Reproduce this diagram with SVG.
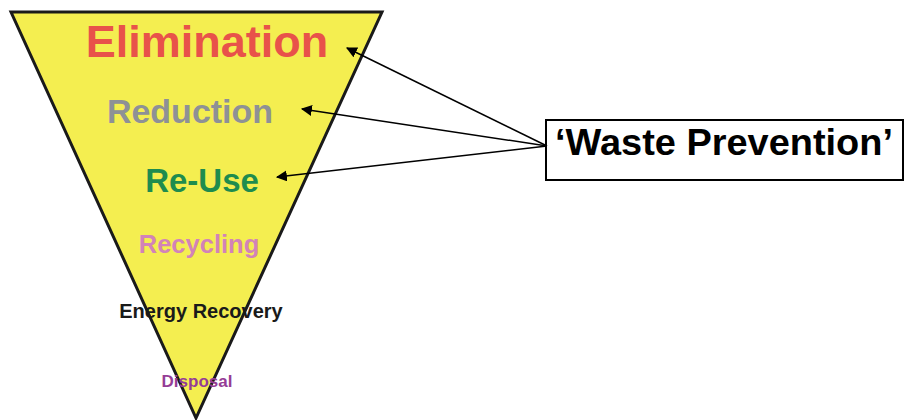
<svg xmlns="http://www.w3.org/2000/svg" width="905" height="420" viewBox="0 0 905 420">
<style>
text{font-family:"Liberation Sans",Arial,sans-serif;font-weight:bold;text-anchor:middle}
.c{stroke:#000;stroke-width:1.5;fill:none;marker-end:url(#ah)}
</style>
<defs>
<marker id="ah" viewBox="0 0 10 10" refX="9" refY="5" markerWidth="11" markerHeight="11" markerUnits="userSpaceOnUse" orient="auto">
<path d="M0,0 L10,5 L0,10 z" fill="#000"/>
</marker>
</defs>
<rect width="905" height="420" fill="#fff"/>
<g id="triangle">
<polygon points="11,12 382,12 196,418" fill="#F4EE50" stroke="#1a1a1a" stroke-width="3"/>
<text x="207" y="57" font-size="45" fill="#E8524A">Elimination</text>
<text x="190" y="123" font-size="34" fill="#8E9196">Reduction</text>
<text x="202" y="192" font-size="33" fill="#1E8C4E">Re-Use</text>
<text x="199" y="253" font-size="25.5" fill="#D283B8">Recycling</text>
<text x="201" y="318" font-size="20" fill="#1a1a1a">Energy Recovery</text>
<text x="197" y="387" font-size="17" fill="#953C96">Disposal</text>
</g>
<g id="waste-prevention">
<rect x="546" y="120" width="357" height="60" fill="#fff" stroke="#000" stroke-width="2"/>
<text x="724" y="155" font-size="36" textLength="338" lengthAdjust="spacingAndGlyphs" fill="#000">‘Waste Prevention’</text>
</g>
<g id="connectors">
<line class="c" x1="547" y1="146" x2="347" y2="48"/>
<line class="c" x1="547" y1="146" x2="302" y2="109"/>
<line class="c" x1="547" y1="146" x2="277" y2="177"/>
</g>
</svg>
